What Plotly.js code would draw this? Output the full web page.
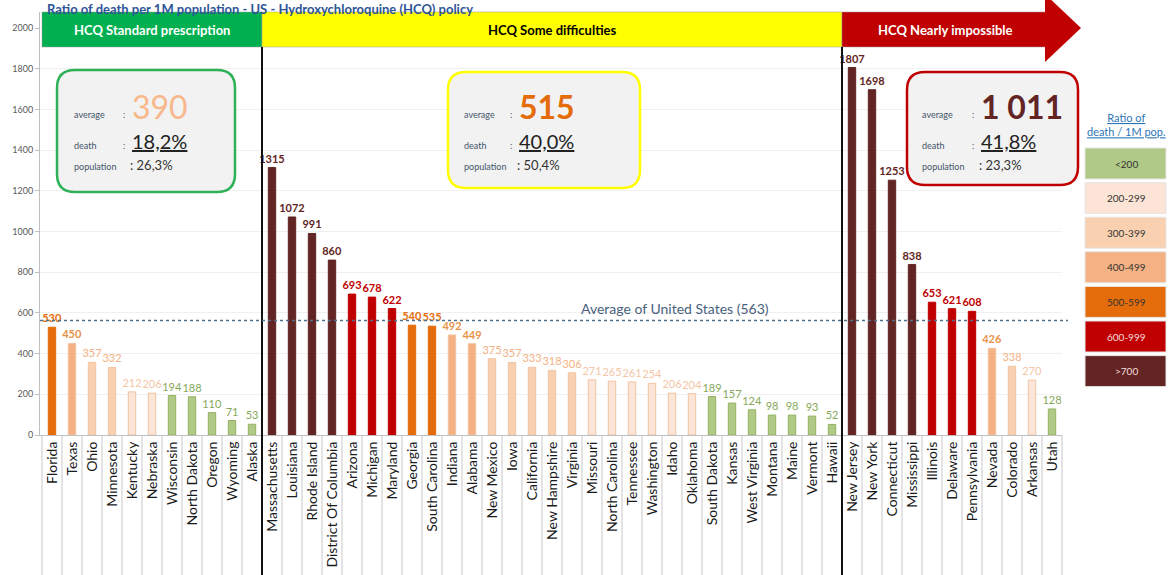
<!DOCTYPE html>
<html>
<head>
<meta charset="utf-8">
<script src="https://cdn.plot.ly/plotly-3.0.1.min.js"></script>
<style>html,body{margin:0;padding:0;background:#fff;}#chart{width:1170px;height:575px;}</style>
</head>
<body>
<div id="chart"></div>
<script>
// ---------- DATA ----------
const states = ["Florida","Texas","Ohio","Minnesota","Kentucky","Nebraska","Wisconsin","North Dakota","Oregon","Wyoming","Alaska",
  "Massachusetts","Louisiana","Rhode Island","District Of Columbia","Arizona","Michigan","Maryland","Georgia","South Carolina","Indiana","Alabama","New Mexico","Iowa","California","New Hampshire","Virginia","Missouri","North Carolina","Tennessee","Washington","Idaho","Oklahoma","South Dakota","Kansas","West Virginia","Montana","Maine","Vermont","Hawaii",
  "New Jersey","New York","Connecticut","Mississippi","Illinois","Delaware","Pennsylvania","Nevada","Colorado","Arkansas","Utah"];
const deathsPer1M = [530,450,357,332,212,206,194,188,110,71,53,
  1315,1072,991,860,693,678,622,540,535,492,449,375,357,333,318,306,271,265,261,254,206,204,189,157,124,98,98,93,52,
  1807,1698,1253,838,653,621,608,426,338,270,128];
const groupNames = ["HCQ Standard prescription","HCQ Some difficulties","HCQ Nearly impossible"];
const groupSizes = [11,29,11];
const groupAverage = ["390","515","1 011"];
const groupDeathShare = ["18,2%","40,0%","41,8%"];
const groupPopShare = ["26,3%","50,4%","23,3%"];
const usAverage = 563;
const legendBins = ["<200","200-299","300-399","400-499","500-599","600-999",">700"];
const titleText = "Ratio of death per 1M population - US - Hydroxychloroquine (HCQ) policy";

// ---------- STYLE ----------
const FONT = "Lato, 'Open Sans', sans-serif";
const binFill = ["#b0c986","#fce4d6","#f9d0b0","#f4b183","#e46c0a","#c00000","#632523"];
const binLabel = ["#86a85a","#f5c6a6","#f4b183","#e8924a","#e46c0a","#c00000","#632523"];
function binOf(v){ if(v>=700) return 6; if(v>=600) return 5; if(v>=500) return 4; if(v>=400) return 3; if(v>=300) return 2; if(v>=200) return 1; return 0; }

// plot geometry (pixels)
const L = 40, T = 12, W = 1022, H = 423;
const X0 = -0.6, X1 = 50.5, Y1 = 2080;
const xp = px => (px - L) / W;
const yp = py => (T + H - py) / H;
const xcat = i => xp(L + (i - X0) / (X1 - X0) * W);

const shapes = [];
const annotations = [];

// title
annotations.push({xref:"paper", yref:"paper", x:xp(45), y:yp(-1), xanchor:"left", yanchor:"top",
  text:"<b>"+titleText+"</b>", showarrow:false, font:{family:FONT, size:13, color:"#2f5597"}});

// category separators under the axis
for (let i = -1; i < states.length; i++) {
  shapes.push({type:"line", xref:"paper", yref:"paper", x0:xcat(i+0.5), x1:xcat(i+0.5), y0:0, y1:yp(600),
    line:{color:"#c8c8c8", width:1}, layer:"below"});
}

// group header bands
let start = 0;
const bandColors = ["#00b050","#ffff00","#c00000"];
const bandText = ["#ffffff","#000000","#ffffff"];
groupSizes.forEach((n, g) => {
  const a = (g === 0) ? xp(42) : xcat(start - 0.5);
  const b = (g === 2) ? xp(1046) : xcat(start + n - 0.5);
  shapes.push({type:"rect", xref:"paper", yref:"paper", x0:a, x1:b, y0:yp(47), y1:yp(12),
    fillcolor:bandColors[g], line:{color:"#9a9a9a", width:0.5}});
  annotations.push({xref:"paper", yref:"paper", x:(g===2? xp(945) : (a+b)/2), y:yp(30),
    xanchor:"center", yanchor:"middle", text:"<b>"+groupNames[g]+"</b>",
    showarrow:false, font:{family:FONT, size:13, color:bandText[g]}});
  start += n;
});
// arrow head
shapes.push({type:"path", xref:"paper", yref:"paper",
  path:`M ${xp(1045)},${yp(-6)} L ${xp(1081)},${yp(28)} L ${xp(1045)},${yp(62)} Z`,
  fillcolor:"#c00000", line:{width:0}});

// group divider lines
let acc = 0;
for (let g = 0; g < groupSizes.length - 1; g++) {
  acc += groupSizes[g];
  shapes.push({type:"line", xref:"paper", yref:"paper", x0:xcat(acc-0.5), x1:xcat(acc-0.5), y0:yp(600), y1:yp(47),
    line:{color:"#111111", width:2}});
}

// average line
shapes.push({type:"line", xref:"paper", yref:"y", x0:0, x1:xp(1068), y0:usAverage, y1:usAverage,
  line:{color:"#4f6f8f", width:1.5, dash:"dot"}});
annotations.push({xref:"paper", yref:"y", x:xp(675), y:usAverage, xanchor:"center", yanchor:"bottom", yshift:2,
  text:"Average of United States (" + usAverage + ")", showarrow:false,
  font:{family:FONT, size:14, color:"#4a5f7e"}});

// info boxes
function rrect(x0, y0, x1, y1, r) {
  const P = (x, y) => `${xp(x)},${yp(y)}`;
  return `M ${P(x0+r,y0)} L ${P(x1-r,y0)} Q ${P(x1,y0)} ${P(x1,y0+r)} L ${P(x1,y1-r)} Q ${P(x1,y1)} ${P(x1-r,y1)} ` +
         `L ${P(x0+r,y1)} Q ${P(x0,y1)} ${P(x0,y1-r)} L ${P(x0,y0+r)} Q ${P(x0,y0)} ${P(x0+r,y0)} Z`;
}
const boxes = [
  {x0:57, y0:70, x1:235, y1:192, border:"#2fb257", lx:72, vx:130, avgColor:"#f8b88b", avgBold:false},
  {x0:448, y0:72, x1:640, y1:188, border:"#ffff00", lx:462, vx:517, avgColor:"#e46c0a", avgBold:true},
  {x0:907, y0:72, x1:1078, y1:185, border:"#c00000", lx:920, vx:979, avgColor:"#632523", avgBold:true}
];
boxes.forEach((b, g) => {
  shapes.push({type:"path", xref:"paper", yref:"paper", path:rrect(b.x0,b.y0,b.x1,b.y1,18),
    fillcolor:"#f2f2f2", line:{color:b.border, width:2.5}});
  const small = {family:FONT, size:9, color:"#44546a"};
  const rows = [["average",114],["death",145],["population",166]];
  rows.forEach(r => annotations.push({xref:"paper", yref:"paper", x:xp(b.lx), y:yp(r[1]), xanchor:"left", yanchor:"middle",
    text:r[0], showarrow:false, font:small}));
  const colX = b.vx - 3;
  annotations.push({xref:"paper", yref:"paper", x:xp(colX), y:yp(114), xanchor:"right", yanchor:"middle", text:":", showarrow:false, font:small});
  annotations.push({xref:"paper", yref:"paper", x:xp(colX), y:yp(145), xanchor:"right", yanchor:"middle", text:":", showarrow:false, font:small});
  annotations.push({xref:"paper", yref:"paper", x:xp(b.vx), y:yp(106), xanchor:"left", yanchor:"middle",
    text:(b.avgBold?"<b>"+groupAverage[g]+"</b>":groupAverage[g]), showarrow:false,
    font:{family:FONT, size:32, color:b.avgColor}});
  annotations.push({xref:"paper", yref:"paper", x:xp(b.vx), y:yp(141), xanchor:"left", yanchor:"middle",
    text:groupDeathShare[g], showarrow:false, font:{family:FONT, size:20, color:"#222222", lineposition:"under"}});
  annotations.push({xref:"paper", yref:"paper", x:xp(b.vx-2), y:yp(165), xanchor:"left", yanchor:"middle",
    text:": " + groupPopShare[g], showarrow:false, font:{family:FONT, size:13, color:"#333333"}});
});

// right-side legend
annotations.push({xref:"paper", yref:"paper", x:xp(1126), y:yp(124), xanchor:"center", yanchor:"middle",
  text:"Ratio of<br>death / 1M pop.", showarrow:false, font:{family:FONT, size:11, color:"#2e75b6", lineposition:"under"}});
legendBins.forEach((lab, k) => {
  const y0 = 148 + k * 34.6, y1 = y0 + 31;
  shapes.push({type:"rect", xref:"paper", yref:"paper", x0:xp(1085), x1:xp(1166), y0:yp(y1), y1:yp(y0),
    fillcolor:binFill[k], line:{color:"#e6e6e6", width:1}});
  annotations.push({xref:"paper", yref:"paper", x:xp(1126), y:yp((y0+y1)/2), xanchor:"center", yanchor:"middle",
    text:lab, showarrow:false, font:{family:FONT, size:10, color:(k>=5 ? "#f3dede" : "#333333")}});
});

// ---------- TRACE ----------
const bins = deathsPer1M.map(binOf);
const trace = {
  type:"bar", x:states, y:deathsPer1M,
  marker:{color:bins.map(k => binFill[k]), line:{color:bins.map(k => k===0 ? "#93b35f" : (k<=3 ? "#f0c4a4" : binFill[k])), width:1}},
  text:deathsPer1M.map(v => v >= 400 ? "<b>"+v+"</b>" : String(v)),
  textposition:"outside", constraintext:"none", cliponaxis:false,
  textfont:{family:FONT, size:11, color:bins.map(k => binLabel[k])},
  hoverinfo:"x+y"
};

const layout = {
  width:1170, height:575,
  margin:{l:L, r:1170-L-W, t:T, b:575-T-H},
  paper_bgcolor:"#ffffff", plot_bgcolor:"#ffffff",
  showlegend:false, bargap:0.63,
  font:{family:FONT},
  xaxis:{type:"category", range:[X0, X1], tickangle:-90, ticks:"", showgrid:false,
    showline:true, linecolor:"#bfbfbf", linewidth:1,
    tickfont:{family:FONT, size:14, color:"#1a1a1a"}, fixedrange:true},
  yaxis:{range:[0, Y1], tickvals:[0,200,400,600,800,1000,1200,1400,1600,1800,2000],
    ticks:"outside", ticklen:4, tickcolor:"#bfbfbf", showline:true, linecolor:"#bfbfbf",
    showgrid:true, gridcolor:"#f0f0f0", zeroline:false,
    tickfont:{family:FONT, size:9, color:"#595959"}, fixedrange:true},
  shapes:shapes, annotations:annotations
};
Plotly.newPlot("chart", [trace], layout, {displayModeBar:false, staticPlot:true});
</script>
</body>
</html>
